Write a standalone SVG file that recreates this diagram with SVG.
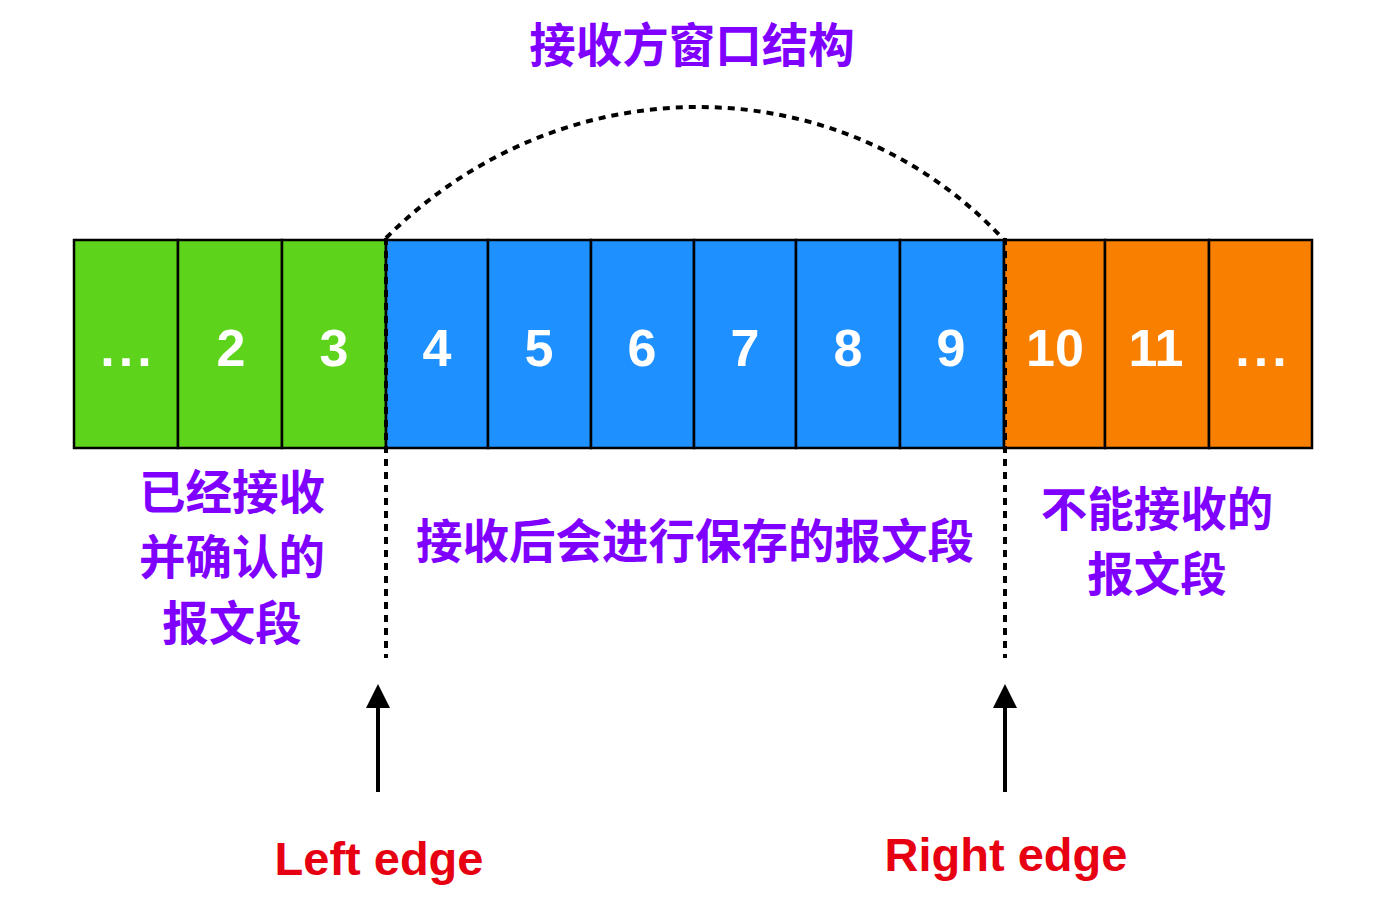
<svg xmlns="http://www.w3.org/2000/svg" width="1388" height="918" viewBox="0 0 1388 918">
<style>
.cell{stroke:#000;stroke-width:2.5}
.g{fill:#5dd41b}
.b{fill:#1e90ff}
.o{fill:#f97f00}
.num{font-family:"Liberation Sans",Arial,sans-serif;font-weight:bold;font-size:52px;fill:#fff;text-anchor:middle}
.dots{letter-spacing:4px}
.lab{font-family:"Noto Sans CJK SC","Noto Sans",sans-serif;font-weight:bold;font-size:46.5px;fill:#7f00ff;text-anchor:middle}
.edge{font-family:"Liberation Sans",Arial,sans-serif;font-weight:bold;font-size:47px;fill:#e60012;text-anchor:middle}
.dash{fill:none;stroke:#000;stroke-width:4;stroke-dasharray:7 6}
.arr{stroke:#000;stroke-width:4;fill:none}
</style>
<defs>
<marker id="ah" markerWidth="6" markerHeight="6" refX="5" refY="3" orient="auto" markerUnits="strokeWidth">
<path d="M0,0 L6,3 L0,6 z" fill="#000"/>
</marker>
</defs>
<rect width="1388" height="918" fill="#fff"/>
<g id="cells">
<g id="c1"><rect class="cell g" x="74" y="240" width="104" height="208"/><text class="num dots" x="128" y="366">...</text></g>
<g id="c2"><rect class="cell g" x="178" y="240" width="104" height="208"/><text class="num" x="231" y="366">2</text></g>
<g id="c3"><rect class="cell g" x="282" y="240" width="104" height="208"/><text class="num" x="334" y="366">3</text></g>
<g id="c4"><rect class="cell b" x="386" y="240" width="102" height="208"/><text class="num" x="437" y="366">4</text></g>
<g id="c5"><rect class="cell b" x="488" y="240" width="103" height="208"/><text class="num" x="539" y="366">5</text></g>
<g id="c6"><rect class="cell b" x="591" y="240" width="103" height="208"/><text class="num" x="642" y="366">6</text></g>
<g id="c7"><rect class="cell b" x="694" y="240" width="102" height="208"/><text class="num" x="745" y="366">7</text></g>
<g id="c8"><rect class="cell b" x="796" y="240" width="104" height="208"/><text class="num" x="848" y="366">8</text></g>
<g id="c9"><rect class="cell b" x="900" y="240" width="104" height="208"/><text class="num" x="951" y="366">9</text></g>
<g id="c10"><rect class="cell o" x="1004" y="240" width="101" height="208"/><text class="num" x="1055" y="366">10</text></g>
<g id="c11"><rect class="cell o" x="1105" y="240" width="104" height="208"/><text class="num" x="1156" y="366">11</text></g>
<g id="c12"><rect class="cell o" x="1209" y="240" width="103" height="208"/><text class="num dots" x="1263" y="366">...</text></g>
</g>
<g id="connectors">
<path class="dash" d="M386,238 C561,63 840,63 1004,240"/>
<line class="dash" x1="386" y1="238" x2="386" y2="658"/>
<line class="dash" x1="1005" y1="238" x2="1005" y2="658"/>
<line class="arr" x1="378" y1="792" x2="378" y2="688" marker-end="url(#ah)"/>
<line class="arr" x1="1005" y1="792" x2="1005" y2="688" marker-end="url(#ah)"/>
</g>
<g id="labels">
<text class="lab" x="692" y="62">接收方窗口结构</text>
<text class="lab" x="232" y="509">已经接收</text>
<text class="lab" x="232" y="574">并确认的</text>
<text class="lab" x="232" y="640">报文段</text>
<text class="lab" x="695" y="558">接收后会进行保存的报文段</text>
<text class="lab" x="1157" y="526">不能接收的</text>
<text class="lab" x="1157" y="591">报文段</text>
<text class="edge" x="379" y="875">Left edge</text>
<text class="edge" x="1006" y="871">Right edge</text>
</g>
</svg>
